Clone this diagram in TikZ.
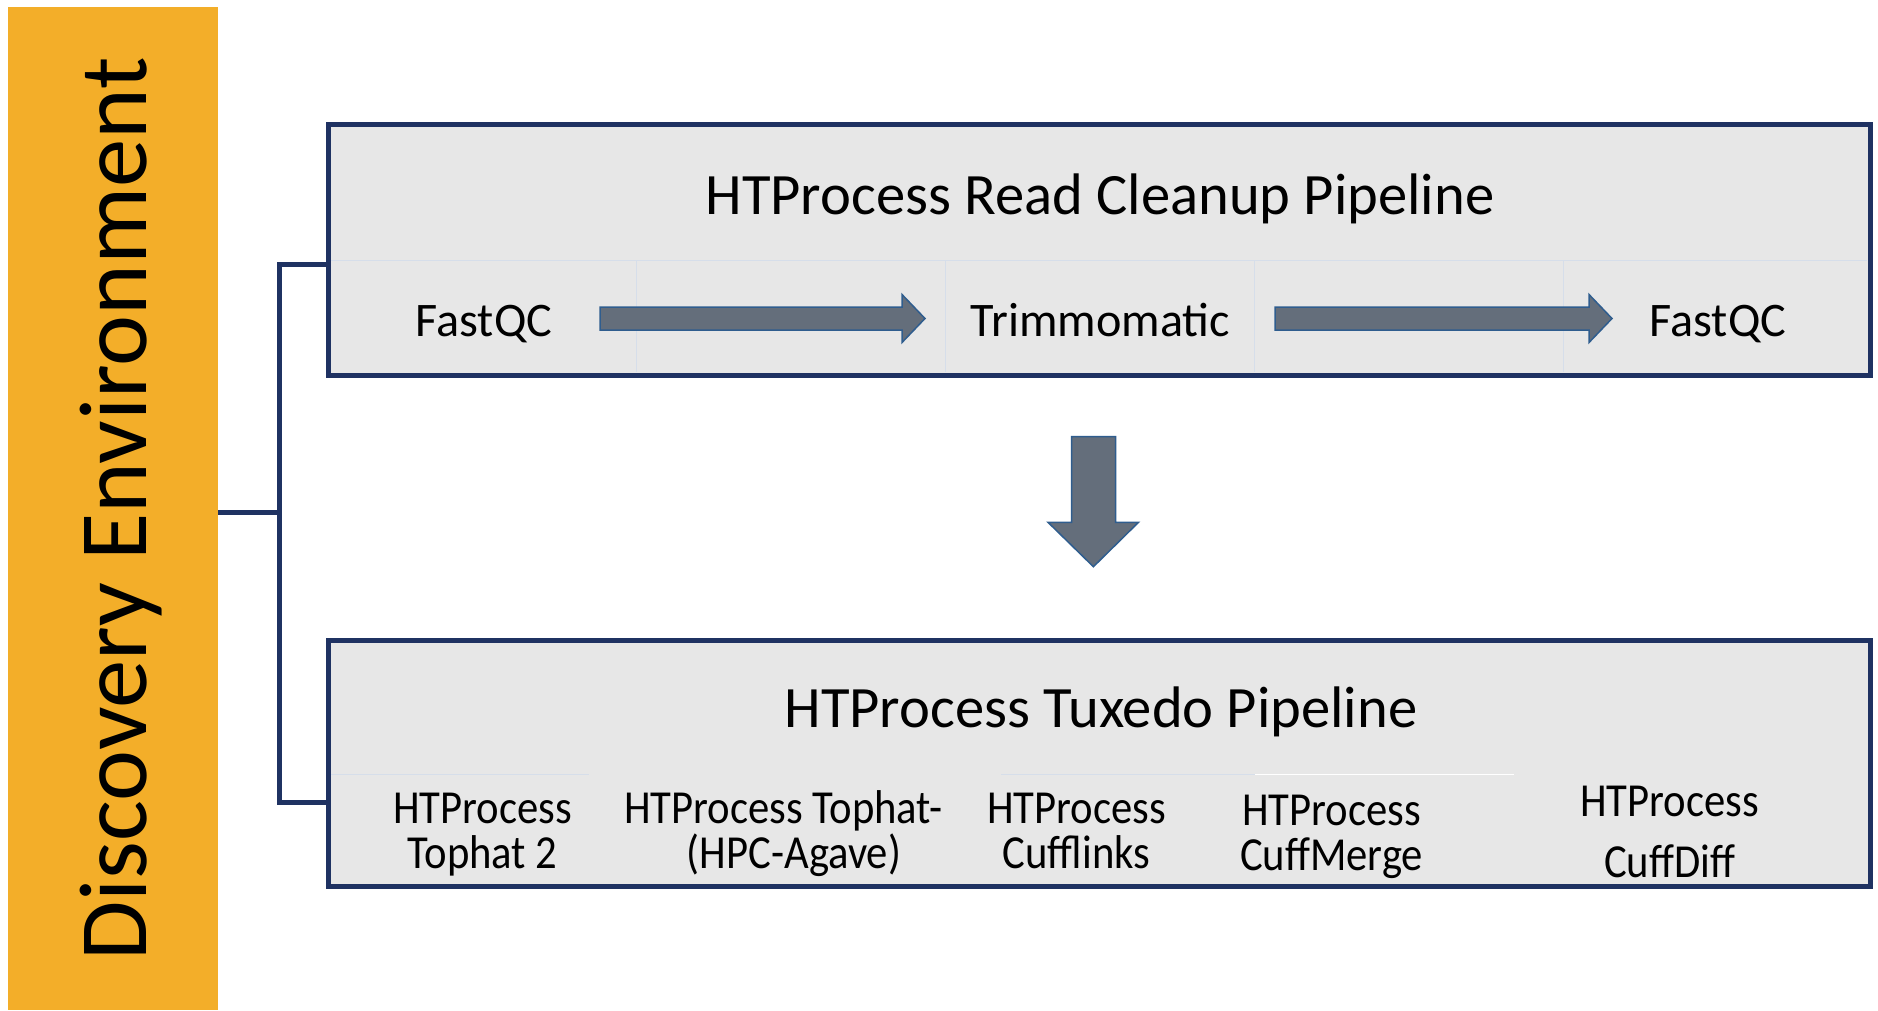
\documentclass[tikz,border=0pt]{standalone}
\usepackage{fontspec}
\setmainfont{Carlito}
\newfontfamily\condfont[FakeStretch=0.9]{Carlito}
\definecolor{deorange}{HTML}{F3AE29}
\definecolor{navy}{HTML}{1F3262}
\definecolor{boxgray}{HTML}{E7E7E7}
\definecolor{arrowfill}{HTML}{646E7B}
\definecolor{arrowline}{HTML}{2F5D8E}
\definecolor{faint}{HTML}{D6DEEA}
\begin{document}
\begin{tikzpicture}[x=0.5pt,y=-0.5pt,
  band/.style={fill=deorange, draw=none, minimum width=105pt, minimum height=501.5pt, inner sep=0pt},
  pipebox/.style={draw=navy, line width=2.5pt, fill=boxgray, minimum width=770.85pt, inner sep=0pt},
  bandtext/.style={font=\fontsize{48.3}{56}\selectfont, rotate=90, anchor=base, inner sep=0pt},
  pipetitle/.style={font=\fontsize{29.3}{34}\selectfont, anchor=base, inner sep=0pt},
  tool/.style={font=\fontsize{24.1}{28}\selectfont, anchor=base, inner sep=0pt},
  subtool/.style={font=\condfont\fontsize{23.7}{28}\selectfont, anchor=base, inner sep=0pt},
  bracket/.style={draw=navy, line width=2.5pt, line join=miter},
  blockarrow/.style={fill=arrowfill, draw=arrowline, line width=0.75pt, line join=miter},
  gridline/.style={draw=faint, line width=0.5pt},
  whiteline/.style={draw=white, line width=0.6pt}]
\useasboundingbox (0,0) rectangle (1878,1011);
\fill[white] (0,0) rectangle (1878,1011);

% orange band
\node[band] (band) at (113,508.5) {};
\node[bandtext] (de) at (146.7,509) {Discovery Environment};

% pipeline boxes
\node[pipebox, minimum height=125pt] (topbox) at (1099.15,250) {};
\node[pipebox, minimum height=122.65pt] (botbox) at (1099.15,763.35) {};

% faint table lines, top box
\draw[gridline] (331,260) -- (1867,260);
\foreach \gx in {636.5,945.5,1254,1563} {\draw[gridline] (\gx,260) -- (\gx,372);}
% faint table lines, bottom box
\draw[gridline] (331,774.3) -- (589,774.3);
\draw[gridline] (1001,774.3) -- (1255,774.3);
\draw[whiteline] (1255,774.3) -- (1514,774.3);

% bracket
\coordinate (jn) at (279,512.5);
\draw[bracket] (band.east |- jn) -- (jn);
\draw[bracket] (topbox.west |- 0,264) -- (279,264) -- (279,802.5) -- (botbox.west |- 0,802.5);

% titles
\node[pipetitle] (t1) at (1100,214) {HTProcess Read Cleanup Pipeline};
\node[pipetitle] (t2) at (1101,727) {HTProcess Tuxedo Pipeline};

% top row tools
\node[tool] (fq1) at (484,336) {FastQC};
\node[tool] (trim) at (1100.5,336) {Trimmomatic};
\node[tool] (fq2) at (1718,336) {FastQC};

% block arrows
\draw[blockarrow] (600,307) -- (902,307) -- (902,294.5) -- (925,318.5) -- (902,342.5) -- (902,330) -- (600,330) -- cycle;
\draw[blockarrow] (1275,307) -- (1589,307) -- (1589,294.5) -- (1612,318.5) -- (1589,342.5) -- (1589,330) -- (1275,330) -- cycle;
\draw[blockarrow] (1071.6,436.7) -- (1115.6,436.7) -- (1115.6,522.3) -- (1138.5,522.3) -- (1093.4,566.7) -- (1048,522.3) -- (1071.6,522.3) -- cycle;

% bottom row tools
\node[subtool] (a1) at (482.6,823.3) {HTProcess};
\node[subtool] (a2) at (482.6,868.3) {Tophat 2};
\node[subtool] (b1) at (783.5,823.3) {HTProcess Tophat-};
\node[subtool] (b2) at (794,868.3) {(HPC-Agave)};
\node[subtool] (c1) at (1076.5,823.3) {HTProcess};
\node[subtool] (c2) at (1076.5,868.3) {Cufflinks};
\node[subtool] (d1) at (1331.5,825) {HTProcess};
\node[subtool] (d2) at (1331.5,870) {CuffMerge};
\node[subtool] (e1) at (1669.5,816) {HTProcess};
\node[subtool] (e2) at (1669.5,877.3) {CuffDiff};
\end{tikzpicture}
\end{document}
